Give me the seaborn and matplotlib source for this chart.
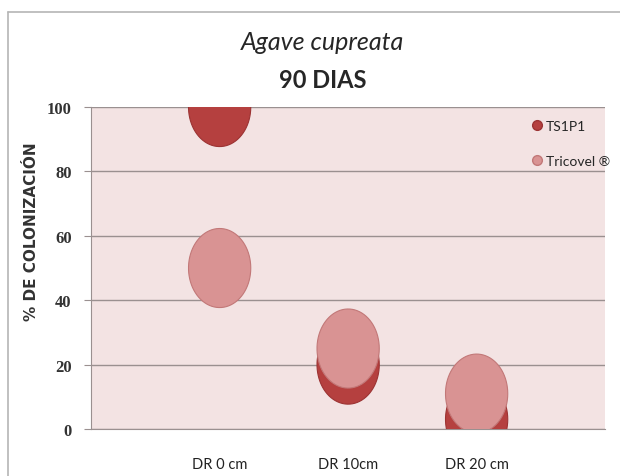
import pandas as pd
import matplotlib.pyplot as plt
import seaborn as sns
import numpy as np
from matplotlib.path import Path
from matplotlib.lines import Line2D

# data
distancias = ['DR 0 cm', 'DR 10cm', 'DR 20 cm']
ts1p1 = [100, 20, 3]
tricovel = [50, 25, 11]
series = ['TS1P1', 'Tricovel ®']
colores = ['#b5403f', '#d99393']
bordes = ['#9c3333', '#c27878']

df = pd.DataFrame({
    'Distancia': distancias * 2,
    'Tratamiento': [series[0]] * 3 + [series[1]] * 3,
    'Colonizacion': ts1p1 + tricovel,
})

sns.set_style('white')
plt.rcParams['font.family'] = ['Lato', 'DejaVu Sans']

fig = plt.figure(figsize=(6.2, 4.77), dpi=100)
ax = fig.add_axes([0.147, 0.0985, 0.829, 0.675])
ax.set_facecolor('#f3e3e3')

# bubbles are drawn as ellipses (taller than wide)
t = np.linspace(0, 2 * np.pi, 80)
elipse = Path(np.column_stack([np.cos(t), 1.27 * np.sin(t)]))

sns.scatterplot(data=df, x='Distancia', y='Colonizacion', hue='Tratamiento',
                palette=colores, hue_order=series, marker=elipse, s=3240,
                linewidth=0.8, edgecolor=[bordes[0]] * 3 + [bordes[1]] * 3,
                legend=False, ax=ax, zorder=3)

ax.set_xlim(-1, 3)
ax.set_ylim(0, 100)
ax.set_yticks([0, 20, 40, 60, 80, 100])
ax.yaxis.grid(True, color='#9a9090', linewidth=1)
ax.set_axisbelow(True)
for s in ['top', 'right']:
    ax.spines[s].set_visible(False)
ax.spines['left'].set_color('#9a9090')
ax.spines['bottom'].set_color('#9a9090')

ax.tick_params(axis='y', left=True, length=5, color='#9a9090', pad=9)
ax.tick_params(axis='x', bottom=False, pad=17, labelsize=10.5)
for lab in ax.get_yticklabels():
    lab.set_fontfamily('Liberation Serif')
    lab.set_fontweight('bold')
    lab.set_fontsize(12)
    lab.set_color('#333333')
for lab in ax.get_xticklabels():
    lab.set_color('#222222')

ax.set_xlabel('')
ax.set_ylabel('% DE COLONIZACIÓN', fontfamily='DejaVu Sans', fontweight='bold',
              fontsize=11, color='#333333')
ax.yaxis.set_label_coords(-0.101, 0.615)

handles = [Line2D([], [], marker='o', linestyle='', markersize=7,
                  markerfacecolor=colores[i], markeredgecolor=bordes[i])
           for i in range(2)]
ax.legend(handles, series, loc='upper left', bbox_to_anchor=(0.83, 1.0),
          frameon=False, fontsize=10, handletextpad=0.1, labelspacing=1.7,
          handlelength=1.0)

fig.text(0.52, 0.91, 'Agave cupreata', ha='center', va='center',
         fontsize=18, style='italic')
fig.text(0.52, 0.832, '90 DIAS', ha='center', va='center',
         fontsize=17, fontweight='bold')

# outer chart frame (left and top edges only, the rest runs off the image)
top = 464 / 477
left = 8 / 620
fig.add_artist(Line2D([left, 1], [top, top], transform=fig.transFigure,
                      color='#b5b5b5', linewidth=1.2))
fig.add_artist(Line2D([left, left], [0, top], transform=fig.transFigure,
                      color='#b5b5b5', linewidth=1.2))

plt.savefig('out.png', dpi=100)
